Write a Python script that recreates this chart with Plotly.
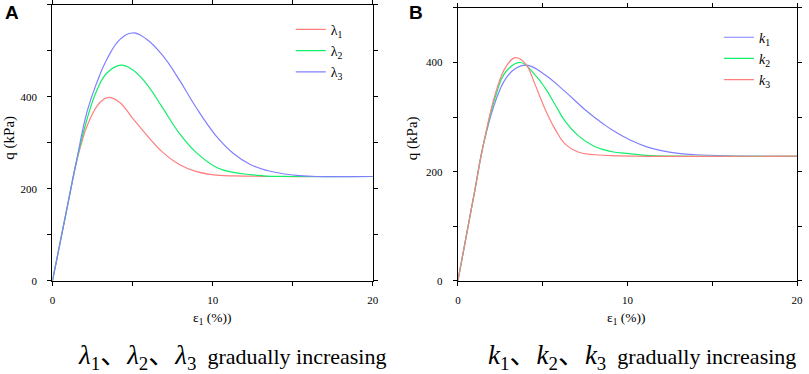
import plotly.graph_objects as go

# ---------- Data ----------
# Panel A : lambda series
a_l1_x = [0, 0.5, 1.0, 1.5, 1.85, 2.16, 2.78, 3.2, 3.56, 4.2, 5.0, 5.86, 6.9, 7.92, 8.95, 10.2, 12, 14, 17, 20]
a_l1_y = [0, 87, 174, 258, 304, 337, 380, 395, 399, 388, 354, 318, 279, 253, 238, 230, 228, 227, 227, 227]

a_l2_x = [0, 0.5, 1.0, 1.5, 2.16, 2.78, 3.4, 4.26, 5.0, 5.86, 6.9, 7.92, 8.95, 10.29, 11.3, 12.35, 13.4, 15, 20]
a_l2_y = [0, 87, 174, 260, 352, 415, 452, 469, 459, 429, 375, 321, 280, 246, 236, 231, 228, 227, 227]

a_l3_x = [0, 0.5, 1.0, 1.5, 2.16, 2.78, 3.4, 4.22, 5.0, 5.86, 6.9, 7.92, 8.95, 10.2, 11.3, 12.35, 13.4, 14.4, 15.4, 16.5, 20]
a_l3_y = [0, 87, 174, 261, 368, 432, 482, 525, 539, 526, 489, 437, 378, 316, 277, 253, 240, 233, 229, 227, 227]

# Panel B : k series
b_k1_x = [0, 0.5, 1.0, 1.5, 2.25, 2.83, 3.4, 4.08, 5.15, 6.31, 7.48, 8.64, 9.12, 10.1, 11.1, 12.0, 13.0, 14.0, 15.9, 20]
b_k1_y = [0, 83, 166, 249, 332, 371, 389, 395, 377, 347, 314, 286, 276, 259, 246, 238.5, 233.5, 231, 229, 228]

b_k2_x = [0, 0.5, 1.0, 1.5, 2.25, 2.83, 3.69, 4.56, 5.15, 5.73, 6.31, 7.09, 8.06, 9.03, 10.1, 11.1, 13.0, 20]
b_k2_y = [0, 83, 166, 249, 341, 383, 400, 377, 353, 323, 293, 266, 246, 237, 233, 230, 228.5, 228]

b_k3_x = [0, 0.5, 1.0, 1.5, 2.25, 2.83, 3.4, 3.98, 4.56, 5.15, 5.73, 6.31, 7.09, 8.06, 9.5, 20]
b_k3_y = [0, 83, 166, 249, 347, 392, 409, 398, 359, 314, 278, 251, 236, 231, 229, 228.5]

a_names = ["λ<sub>1</sub>", "λ<sub>2</sub>", "λ<sub>3</sub>"]
b_names = ["<i>k</i><sub>1</sub>", "<i>k</i><sub>2</sub>", "<i>k</i><sub>3</sub>"]

x_title = "ε<sub>1</sub> (%))"
y_title = "q (kPa)"
BIG = '<span style="font-size:27px">'
caption_a = (BIG + "<i>λ</i><sub>1</sub>、<i>λ</i><sub>2</sub>、<i>λ</i><sub>3</sub></span>"
             "  gradually increasing")
caption_b = (BIG + "<i>k</i><sub>1</sub>、<i>k</i><sub>2</sub>、<i>k</i><sub>3</sub></span>"
             "  gradually increasing")

RED = "#FF7F7F"
GREEN = "#12EE6A"
BLUE = "#8080FF"

SERIF = "Liberation Serif, Times New Roman, Noto Sans CJK SC, serif"

W, H = 809, 374

fig = go.Figure()

def add(x, y, name, color, xa, ya, legend):
    fig.add_trace(go.Scatter(x=x, y=y, name=name, mode="lines",
                             line=dict(color=color, width=1.2, shape="spline", smoothing=1.2),
                             xaxis=xa, yaxis=ya, legend=legend))

add(a_l1_x, a_l1_y, a_names[0], RED, "x", "y", "legend")
add(a_l2_x, a_l2_y, a_names[1], GREEN, "x", "y", "legend")
add(a_l3_x, a_l3_y, a_names[2], BLUE, "x", "y", "legend")
add(b_k1_x, b_k1_y, b_names[0], BLUE, "x2", "y2", "legend2")
add(b_k2_x, b_k2_y, b_names[1], GREEN, "x2", "y2", "legend2")
add(b_k3_x, b_k3_y, b_names[2], RED, "x2", "y2", "legend2")

def px_x(p):
    return p / W

def px_y(p):
    return 1 - p / H

axis_common = dict(showline=True, linecolor="black", linewidth=1.3, mirror="allticks",
                   ticks="outside", ticklen=4, tickwidth=1, tickcolor="black",
                   showgrid=False, zeroline=False,
                   tickfont=dict(family=SERIF, size=11, color="black"))

fig.update_layout(
    width=W, height=H,
    margin=dict(l=0, r=0, t=0, b=0),
    paper_bgcolor="white", plot_bgcolor="white",
    xaxis=dict(domain=[px_x(50), px_x(374)], range=[0, 20], dtick=10, ticklabelstandoff=5,
               minor=dict(dtick=5, ticks="outside", ticklen=4, tickcolor="black"),
               anchor="y", **axis_common),
    yaxis=dict(domain=[px_y(285.5), px_y(5)], range=[0, 600], dtick=200, ticklabelstandoff=8,
               minor=dict(dtick=100, ticks="outside", ticklen=4, tickcolor="black"),
               anchor="x", **axis_common),
    xaxis2=dict(domain=[px_x(460), px_x(803)], range=[0, 20], dtick=10, ticklabelstandoff=5,
                minor=dict(dtick=5, ticks="outside", ticklen=4, tickcolor="black"),
                anchor="y2", **axis_common),
    yaxis2=dict(domain=[px_y(285.5), px_y(8)], range=[0, 500], dtick=200, ticklabelstandoff=8,
                minor=dict(dtick=100, ticks="outside", ticklen=4, tickcolor="black"),
                anchor="x2", **axis_common),
    legend=dict(x=px_x(291), y=px_y(14), xanchor="left", yanchor="top",
                bgcolor="rgba(0,0,0,0)", font=dict(family=SERIF, size=14, color="black"),
                tracegroupgap=0),
    legend2=dict(x=px_x(724), y=px_y(22), xanchor="left", yanchor="top",
                 bgcolor="rgba(0,0,0,0)", font=dict(family=SERIF, size=14, color="black"),
                 tracegroupgap=0),
    showlegend=True,
)

ann = []
# Panel letters
ann.append(dict(text="<b>A</b>", x=px_x(9), y=px_y(13), xref="paper", yref="paper",
                xanchor="center", yanchor="middle", showarrow=False,
                font=dict(family="Liberation Sans, Arial, sans-serif", size=19, color="black")))
ann.append(dict(text="<b>B</b>", x=px_x(418), y=px_y(13), xref="paper", yref="paper",
                xanchor="center", yanchor="middle", showarrow=False,
                font=dict(family="Liberation Sans, Arial, sans-serif", size=19, color="black")))
# axis titles
for cx in (212, 631):
    ann.append(dict(text=x_title, x=px_x(cx), y=px_y(324), xref="paper", yref="paper",
                    xanchor="center", yanchor="middle", showarrow=False,
                    font=dict(family=SERIF, size=13.5, color="black")))
for cx in (7, 414):
    ann.append(dict(text=y_title, x=px_x(cx), y=px_y(140), xref="paper", yref="paper",
                    xanchor="center", yanchor="middle", showarrow=False, textangle=-90,
                    font=dict(family=SERIF, size=15, color="black")))
# captions
ann.append(dict(text=caption_a, x=px_x(232), y=px_y(363), xref="paper", yref="paper",
                xanchor="center", yanchor="middle", showarrow=False,
                font=dict(family=SERIF, size=22, color="black")))
ann.append(dict(text=caption_b, x=px_x(646), y=px_y(363), xref="paper", yref="paper",
                xanchor="center", yanchor="middle", showarrow=False,
                font=dict(family=SERIF, size=22, color="black")))
fig.update_layout(annotations=ann)

fig.write_html("out.html", config={"displayModeBar": False},
               post_script="document.body.style.margin='0';document.body.style.overflow='hidden';")
